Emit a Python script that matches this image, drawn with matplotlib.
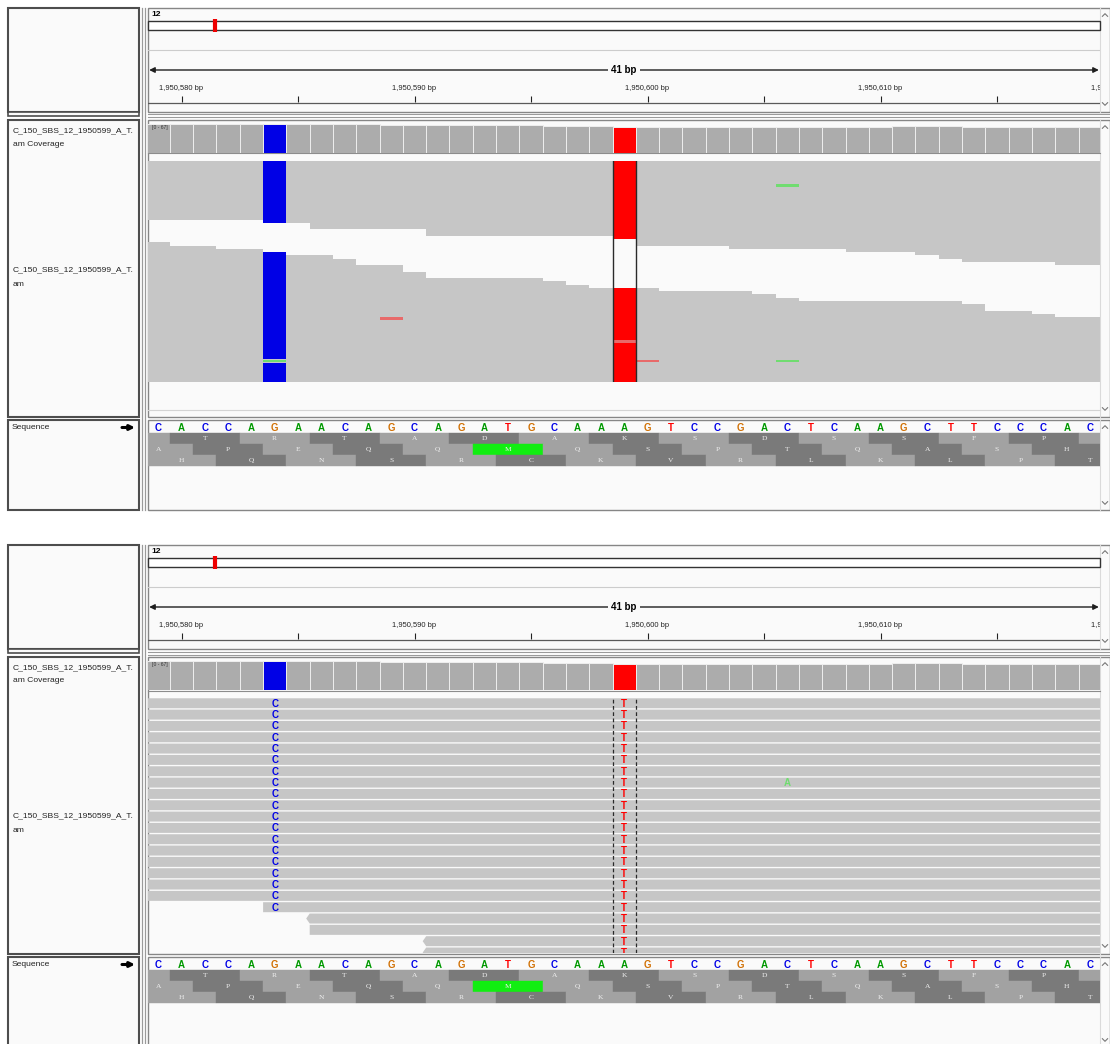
#! /usr/bin/env python3

'''
Two IGV views of the same locus on chr12 (1,950,579-1,950,619): squished
alignments on top, expanded alignments underneath.
'''

import math
import matplotlib
matplotlib.use('Agg')
import matplotlib.pyplot as plt
from matplotlib.patches import Rectangle, Polygon

plt.rcParams['font.family'] = ['Liberation Sans', 'DejaVu Sans']

W, H = 1110, 1044          # output size, pixels
SHIFT = 537                # second screenshot sits this far below the first

## data
chrom = '12'
chrom_len = 27531856
center_pos = 1950599
ref_start = 1950579
ref_seq = 'CACCAGAACAGCAGATGCAAAGTCCGACTCAAGCTTCCCAC'
span_label = '41 bp'
tick_pos = [1950580, 1950585, 1950590, 1950595, 1950600,
            1950605, 1950610, 1950615, 1950620]
tick_lab = ['1,950,580 bp', '', '1,950,590 bp', '', '1,950,600 bp',
            '', '1,950,610 bp', '', '1,950,620 bp']

track_name = 'C_150_SBS_12_1950599_A_T.'
track_tail = ['am Coverage', 'am']

cov_max = 67
coverage = [67, 67, 67, 67, 67, 67, 67, 67, 67, 67, 65,
            64, 64, 64, 64, 64, 64, 62, 62, 62,
            61, 61, 61, 61, 61, 61, 61, 59, 59, 59,
            59, 59, 62, 62, 62, 59, 59, 59, 59, 59, 59]

# every read carries these alleles
alt_pos = [1950584, 1950599]
alt_base = ['C', 'T']

# packed alignment rows. 1950560 / 1950640 mean "runs past the window edge"
# reads that leave through the right edge: row, first base, strand
right_row = [0, 1, 2, 3, 4, 5, 6, 7, 8, 9, 10, 11, 12, 13, 14, 15, 16, 17,
             18, 19, 20, 21, 22, 23, 24, 25, 26, 27, 28, 29, 30, 31]
right_start = [1950560, 1950560, 1950560, 1950560, 1950560, 1950560,
               1950560, 1950560, 1950560, 1950560, 1950560, 1950560,
               1950560, 1950560, 1950560, 1950560, 1950560, 1950560,
               1950584, 1950586, 1950586, 1950591, 1950591, 1950599,
               1950600, 1950600, 1950604, 1950609, 1950612, 1950613,
               1950614, 1950618]
right_strand = ['+', '-', '+', '-', '-', '+', '-', '+', '+', '-', '+', '-',
                '-', '+', '-', '+', '-', '+',
                '+', '-', '+', '-', '-', '+', '-', '+', '-', '+', '+', '-',
                '+', '-']
# reads that come in through the left edge: row, last base
left_row = [25, 26, 27, 28, 29, 30, 31, 32, 33, 34, 35, 36, 37, 38, 39, 40,
            41, 42, 43, 44, 45, 46, 47,
            48, 49, 50, 51, 52, 53, 54, 55, 56, 57, 58, 59, 60, 61, 62, 63,
            64, 65, 66, 67]
left_end = [1950579, 1950581, 1950583, 1950584, 1950586, 1950587, 1950587,
            1950589, 1950589, 1950590, 1950590, 1950595, 1950596, 1950597,
            1950600, 1950604, 1950605, 1950606, 1950613, 1950614, 1950614,
            1950616, 1950617,
            1950640, 1950640, 1950640, 1950640, 1950640, 1950640, 1950640,
            1950640, 1950640, 1950640, 1950640, 1950640, 1950640, 1950640,
            1950640, 1950640, 1950640, 1950640, 1950640, 1950640]
n_rows = 68

# single low quality bases that differ from the rest
mm_row = [7, 61, 48, 55, 61, 61]
mm_pos = [1950606, 1950606, 1950589, 1950599, 1950600, 1950584]
mm_base = ['A', 'A', 'T', 'T', 'T', 'A']

# three forward translation frames
frame_start = [1950577, 1950578, 1950579]
frame_aa = [['', 'T', 'R', 'T', 'A', 'D', 'A', 'K', 'S', 'D', 'S', 'S', 'F', 'P', ''],
            ['A', 'P', 'E', 'Q', 'Q', 'M', 'Q', 'S', 'P', 'T', 'Q', 'A', 'S', 'H'],
            ['H', 'Q', 'N', 'S', 'R', 'C', 'K', 'V', 'R', 'L', 'K', 'L', 'P', 'T']]

base_col = {'A': '#009900', 'C': '#0000e6', 'G': '#d17105', 'T': '#ff0000'}
faded_col = {'A': '#70dc70', 'C': '#7070f0', 'G': '#e8a868', 'T': '#e86a6a'}
read_col = '#c6c6c6'
cov_col = '#acacac'
panel_bg = '#fafafa'

# window edges, as genome coordinates of the data panel's left/right pixel
view_lo, view_hi = 1950578.56, 1950619.42


fig = plt.figure(figsize=(W / 100, H / 100), dpi=100)
fig.patch.set_facecolor('white')


def px_axes(x0, y0, x1, y1, dy, z=1):
    ax = fig.add_axes([x0 / W, 1 - (y1 + dy) / H, (x1 - x0) / W, (y1 - y0) / H],
                      zorder=z)
    ax.set_axis_off()
    return ax


def chevron(ax, x, y, up):
    d = 1.3 if up else -1.3
    ax.plot([x - 2.6, x, x + 2.6], [y + d, y - d, y + d], color='#777777', lw=0.8)


def draw_igv(dy, expanded):
    # ---- panel frames and names
    ch = px_axes(0, 0, W, 512, dy, z=0)
    ch.set_xlim(0, W)
    ch.set_ylim(512, 0)
    for (y0, y1) in [(8, 112), (120, 417), (420, 510)]:
        ch.add_patch(Rectangle((8, y0), 131, y1 - y0, fc=panel_bg, ec='#4d4d4d', lw=1.5))
        ch.add_patch(Rectangle((148, y0), 962, y1 - y0, fc=panel_bg, ec='#868686', lw=1.0))
        ch.plot([1100, 1100], [y0, y1], color='#dadada', lw=0.8)
    ch.add_patch(Rectangle((8, 112), 131, 4, fc=panel_bg, ec='#4d4d4d', lw=1.2))
    ch.plot([148, 1110], [114.5, 114.5], color='#9a9a9a', lw=0.8)
    ch.plot([148, 1110], [117.5, 117.5], color='#9a9a9a', lw=0.8)
    for x in (141.5, 144.5):
        ch.plot([x, x], [8, 510], color='#9a9a9a', lw=0.9)
    for y, up in [(15, True), (104, False), (127, True), (409, False),
                  (427, True), (503, False)]:
        chevron(ch, 1105, y, up)

    ch.text(151, 14.5, chrom, fontsize=6, fontweight='bold', va='center')
    ch.text(13, 130.5, track_name, fontsize=6.1, va='center', color='#222222')
    ch.text(13, 144, track_tail[0], fontsize=6.1, va='center', color='#222222')
    name_y = 279 if expanded else 270
    ch.text(13, name_y, track_name, fontsize=6.1, va='center', color='#222222')
    ch.text(13, name_y + 14, track_tail[1], fontsize=6.1, va='center', color='#222222')
    ch.text(12, 428, 'Sequence', fontsize=6.1, va='center', color='#222222')
    ch.annotate('', xy=(135, 427.5), xytext=(122, 427.5),
                arrowprops=dict(arrowstyle='-|>', color='black', lw=2.2,
                                mutation_scale=7, shrinkA=0, shrinkB=0))
    ch.plot([148, 1100], [153.5, 153.5], color='#8c8c8c', lw=0.8)
    if not expanded:
        ch.plot([148, 1100], [410, 410], color='#d4d4d4', lw=0.8)

    # ---- ideogram
    ix = px_axes(148, 18.5, 1100, 31.5, dy)
    ix.set_xlim(0, chrom_len)
    ix.set_ylim(13, 0)
    ix.add_patch(Rectangle((0, 2.2), chrom_len, 8.8, fc='white', ec='#333333',
                           lw=1.0, clip_on=False))
    ix.axvline(center_pos, ymin=0.04, ymax=0.96, color='#ee0000', lw=3.0)

    # ---- ruler
    hx = px_axes(148, 8, 1100, 112, dy)
    hx.set_xlim(view_lo, view_hi)
    hx.set_ylim(104, 0)
    hx.axhline(42, color='#cccccc', lw=0.8)
    hx.annotate('', xy=(view_hi - 0.05, 62), xytext=(view_lo + 0.05, 62),
                arrowprops=dict(arrowstyle='<|-|>', color='#1e1e1e', lw=1.0,
                                mutation_scale=8, shrinkA=0, shrinkB=0))
    hx.text((view_lo + view_hi) / 2, 62, span_label, fontsize=7, fontweight='bold',
            ha='center', va='center',
            bbox=dict(fc=panel_bg, ec='none', boxstyle='square,pad=0.35'))
    for p, lab in zip(tick_pos, tick_lab):
        hx.text(p, 80.5, lab, fontsize=5.4, ha='center', va='center',
                color='#222222', clip_on=True)
    hx.vlines(tick_pos, 87.5, 93.5, color='#222222', lw=0.8)
    hx.axhline(95, color='#5a5a5a', lw=0.9)

    # ---- coverage
    cx = px_axes(148, 124, 1100, 152.7, dy)
    cx.set_xlim(view_lo, view_hi)
    cx.set_ylim(0, cov_max)
    pos = [ref_start + i for i in range(len(coverage))]
    cols = [base_col[alt_base[alt_pos.index(p)]] if p in alt_pos else cov_col
            for p in pos]
    cx.bar(pos, coverage, width=1.0, color=cols, edgecolor='#eeeeee', linewidth=0.7)
    cx.text(0.004, 0.98, '[0 - %d]' % cov_max, transform=cx.transAxes,
            fontsize=3.6, va='top', ha='left', color='#333333')

    # ---- alignments
    odd = {(r, p): b for r, p, b in zip(mm_row, mm_pos, mm_base)}
    if expanded:
        top, bottom, row_px = 160.6, 416, 11.33
        y_in, y_out = 0.06, 0.94
    else:
        top, bottom, row_px = 161, 382, (382 - 161) / n_rows
        y_in, y_out = 0.0, 1.0
    shown = (bottom - top) / row_px
    al = px_axes(148, top, 1100, bottom, dy)
    al.set_xlim(view_lo, view_hi)
    al.set_ylim(shown, 0)

    reads = [(r, s, 1950640, st) for r, s, st in zip(right_row, right_start, right_strand)]
    reads += [(r, 1950560, e, '+') for r, e in zip(left_row, left_end)]
    for r, s, e, st in reads:
        if r >= math.ceil(shown):
            continue
        x0, x1 = s - 0.5, e + 0.5
        ya, yb, ym = r + y_in, r + y_out, r + 0.5
        if expanded and st == '-':
            pts = [(x0 - 0.15, ym), (x0, ya), (x1, ya), (x1, yb), (x0, yb)]
        elif expanded:
            pts = [(x0, ya), (x1, ya), (x1 + 0.15, ym), (x1, yb), (x0, yb)]
        else:
            pts = [(x0, ya), (x1, ya), (x1, yb), (x0, yb)]
        al.add_patch(Polygon(pts, closed=True, fc=read_col, ec='none',
                             antialiased=expanded, zorder=1))

        # bases that differ from the reference
        marks = []
        for p, b in zip(alt_pos, alt_base):
            if s <= p <= e and (r, p) not in odd:
                marks.append((p, b, False))
        for (rr, p), b in odd.items():
            if rr == r and s <= p <= e:
                marks.append((p, b, True))
        for p, b, faded in marks:
            col = faded_col[b] if faded else base_col[b]
            if expanded:
                al.text(p, ym + 0.05, b, color=col, fontsize=7, fontweight='bold',
                        ha='center', va='center', zorder=3, clip_on=True)
            elif faded:
                al.add_patch(Rectangle((p - 0.5, r + 0.15), 1, 0.7, fc=col,
                                       ec='none', antialiased=False, zorder=2))
            else:
                al.add_patch(Rectangle((p - 0.5, r), 1, 1, fc=col, ec='none',
                                       antialiased=False, zorder=2))

    for x in (center_pos - 0.5, center_pos + 0.5):
        if expanded:
            al.axvline(x, color='#2a2a2a', lw=0.9, ls=(0, (3, 2)), zorder=4)
        else:
            al.axvline(x, color='#2a2a2a', lw=1.0, zorder=4)

    # ---- sequence and translation
    sx = px_axes(148, 420, 1100, 510, dy)
    sx.set_xlim(view_lo, view_hi)
    sx.set_ylim(90, 0)
    for i, b in enumerate(ref_seq):
        sx.text(ref_start + i, 7.8, b, color=base_col[b], fontsize=7,
                fontweight='bold', ha='center', va='center')
    row_top = [12.7, 23.8, 34.9]
    for k in range(3):
        for j, aa in enumerate(frame_aa[k]):
            c0 = frame_start[k] + 3 * j
            col = '#a2a2a2' if j % 2 == 0 else '#7a7a7a'
            if aa == 'M':
                col = '#11ee11'
            sx.add_patch(Rectangle((c0 - 0.5, row_top[k]), 3, 11.2, fc=col,
                                   ec=col, lw=0.3))
            sx.text(c0 + 1, row_top[k] + 5.8, aa, color='#f0f0f0', fontsize=5.4,
                    family='Liberation Serif', ha='center', va='center',
                    clip_on=True)


draw_igv(0, expanded=False)
draw_igv(SHIFT, expanded=True)

plt.savefig('out.png', dpi=100, facecolor='white')
